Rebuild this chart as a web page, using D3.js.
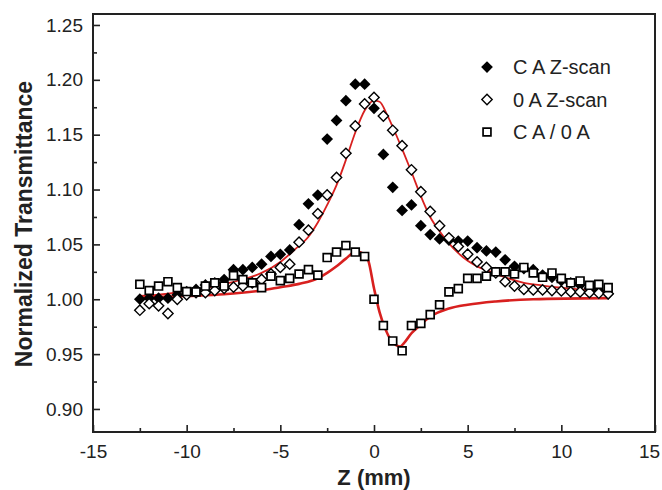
<!DOCTYPE html>
<html>
<head>
<meta charset="utf-8">
<script src="https://cdn.jsdelivr.net/npm/d3@7"></script>
<style>
  body { margin: 0; background: #fff; }
  svg { display: block; font-family: "Liberation Sans", Arial, sans-serif; }
</style>
</head>
<body>
<svg id="chart" width="662" height="490"></svg>
<script>
// ---- data ----
const zPos = [-12.5, -12, -11.5, -11, -10.5, -10, -9.5, -9, -8.5, -8, -7.5, -7, -6.5, -6, -5.5, -5,
  -4.5, -4, -3.5, -3, -2.5, -2, -1.5, -1, -0.5, 0, 0.5, 1, 1.5, 2, 2.5, 3, 3.5, 4, 4.5, 5,
  5.5, 6, 6.5, 7, 7.5, 8, 8.5, 9, 9.5, 10, 10.5, 11, 11.5, 12, 12.5];

const caScan = [1.000, 1.001, 1.001, 1.001, 1.004, 1.007, 1.009, 1.013, 1.015, 1.018, 1.027, 1.027, 1.029, 1.032, 1.039, 1.041,
  1.045, 1.068, 1.087, 1.095, 1.146, 1.163, 1.181, 1.196, 1.196, 1.174, 1.132, 1.102, 1.081, 1.086, 1.067, 1.059, 1.055, 1.054, 1.053, 1.053,
  1.047, 1.044, 1.043, 1.036, 1.030, 1.028, 1.027, 1.022, 1.020, 1.017, 1.015, 1.013, 1.010, 1.008, 1.005];

const oaScan = [0.990, 0.996, 0.994, 0.987, 1.000, 1.004, 1.006, 1.006, 1.008, 1.010, 1.011, 1.012, 1.015, 1.018, 1.023, 1.029,
  1.032, 1.052, 1.063, 1.078, 1.095, 1.111, 1.133, 1.158, 1.178, 1.184, 1.167, 1.154, 1.140, 1.118, 1.098, 1.080, 1.067, 1.056, 1.048, 1.041,
  1.034, 1.029, 1.024, 1.016, 1.012, 1.009, 1.0085, 1.0085, 1.008, 1.0076, 1.0067, 1.0067, 1.006, 1.0055, 1.005];

const ratio = [1.0136, 1.008, 1.012, 1.016, 1.0106, 1.007, 1.0067, 1.012, 1.015, 1.012, 1.0215, 1.018, 1.015, 1.0106, 1.021, 1.017,
  1.019, 1.023, 1.027, 1.022, 1.038, 1.043, 1.049, 1.043, 1.039, 1.000, 0.976, 0.962, 0.953, 0.976, 0.978, 0.986, 0.995, 1.0067, 1.0097, 1.019,
  1.019, 1.021, 1.025, 1.025, 1.023, 1.029, 1.024, 1.020, 1.024, 1.019, 1.015, 1.0167, 1.0127, 1.0136, 1.0106];

// red fit curves
const oaFitZ = [-12.5, -11, -10, -9, -8, -7, -6, -5, -4.25, -3.5, -3, -2.5, -2, -1.5, -1, -0.5, 0, 0.3, 0.7, 1, 1.5, 2, 2.5, 3,
  3.5, 4, 4.5, 5, 5.5, 6.25, 7, 8, 9, 10, 11, 12.5];
const oaFitT = [1.003, 1.005, 1.008, 1.010, 1.014, 1.018, 1.024, 1.034, 1.045, 1.057, 1.070, 1.086, 1.104, 1.127, 1.152, 1.172, 1.181, 1.180, 1.168, 1.157, 1.137, 1.116, 1.094, 1.075,
  1.062, 1.051, 1.042, 1.035, 1.030, 1.025, 1.020, 1.015, 1.0125, 1.0105, 1.009, 1.006];

const ratioFitZ = [-12.5, -10, -8, -6, -5, -4, -3, -2.5, -2, -1.5, -1, -0.8, -0.5, -0.3, 0, 0.3, 0.6, 0.9, 1.2, 1.4, 1.6, 2, 2.5, 3,
  4, 5, 6.5, 8.5, 12.5];
const ratioFitT = [1.0015, 1.003, 1.0045, 1.008, 1.011, 1.014, 1.019, 1.024, 1.030, 1.037, 1.043, 1.043, 1.040, 1.035, 1.010, 0.988, 0.973, 0.963, 0.958, 0.957, 0.960, 0.969, 0.977, 0.984,
  0.9915, 0.995, 0.998, 1.000, 1.001];

const xTicks = [-15, -10, -5, 0, 5, 10, 15];
const xMinor = [-12.5, -7.5, -2.5, 2.5, 7.5, 12.5];
const yTicks = [0.90, 0.95, 1.00, 1.05, 1.10, 1.15, 1.20, 1.25];
const yMinor = [0.925, 0.975, 1.025, 1.075, 1.125, 1.175, 1.225];
const legendLabels = ["C A Z-scan", "0 A Z-scan", "C A / 0 A"];

// ---- chart ----
const svg = d3.select("#chart");
const margin = { top: 14, right: 7, bottom: 58, left: 93 };
const width = 662, height = 490;
const ink = "#222";

const x = d3.scaleLinear().domain([-15, 15]).range([margin.left, width - margin.right]);
const y = d3.scaleLinear().domain([0.879, 1.26]).range([height - margin.bottom, margin.top]);

const plot = svg.append("g");

// red fits
const line = d3.line().x(d => x(d[0])).y(d => y(d[1])).curve(d3.curveMonotoneX);
plot.append("path")
  .attr("d", line(d3.zip(ratioFitZ, ratioFitT)))
  .attr("fill", "none").attr("stroke", "#d8201f").attr("stroke-width", 2.6);
plot.append("path")
  .attr("d", line(d3.zip(oaFitZ, oaFitT)))
  .attr("fill", "none").attr("stroke", "#d8201f").attr("stroke-width", 1.8);

const diamond = d3.symbol().type(d3.symbolDiamond2);
const square = d3.symbol().type(d3.symbolSquare).size(62);
const filledSize = 88, openSize = 68;

plot.append("g").selectAll("path")
  .data(d3.zip(zPos, caScan))
  .join("path")
  .attr("transform", d => `translate(${x(d[0])},${y(d[1])})`)
  .attr("d", diamond.size(filledSize)())
  .attr("fill", "#000");

plot.append("g").selectAll("path")
  .data(d3.zip(zPos, oaScan))
  .join("path")
  .attr("transform", d => `translate(${x(d[0])},${y(d[1])})`)
  .attr("d", diamond.size(openSize)())
  .attr("fill", "#fff").attr("stroke", "#000").attr("stroke-width", 1.4);

plot.append("g").selectAll("path")
  .data(d3.zip(zPos, ratio))
  .join("path")
  .attr("transform", d => `translate(${x(d[0])},${y(d[1])})`)
  .attr("d", square())
  .attr("fill", "#fff").attr("stroke", "#000").attr("stroke-width", 1.7);

// axes (ticks inward), plain hyphen for negatives
const hyphen = d => String(d).replace("\u2212", "-");
const xAxis = svg.append("g")
  .attr("transform", `translate(0,${height - margin.bottom})`)
  .call(d3.axisBottom(x).tickValues(xTicks).tickSize(-7).tickPadding(13).tickFormat(d => hyphen(d3.format("d")(d))));
const xAxisMinor = svg.append("g")
  .attr("transform", `translate(0,${height - margin.bottom})`)
  .call(d3.axisBottom(x).tickValues(xMinor).tickSize(-4).tickFormat(""));
const yAxis = svg.append("g")
  .attr("transform", `translate(${margin.left},0)`)
  .call(d3.axisLeft(y).tickValues(yTicks).tickSize(-7).tickPadding(10).tickFormat(d3.format(".2f")));
const yAxisMinor = svg.append("g")
  .attr("transform", `translate(${margin.left},0)`)
  .call(d3.axisLeft(y).tickValues(yMinor).tickSize(-4).tickFormat(""));

[xAxis, xAxisMinor, yAxis, yAxisMinor].forEach(g => {
  g.select(".domain").remove();
  g.selectAll("line").attr("stroke", ink).attr("stroke-width", 1.6);
  g.selectAll("text").attr("fill", ink).attr("font-size", 19).attr("font-family", "Liberation Sans, Arial, sans-serif");
});
// keep the last x label inside the picture
xAxis.selectAll(".tick").filter(d => d === 15).select("text").attr("dx", -6);

// frame
svg.append("rect")
  .attr("x", margin.left).attr("y", margin.top)
  .attr("width", width - margin.left - margin.right)
  .attr("height", height - margin.top - margin.bottom)
  .attr("fill", "none").attr("stroke", ink).attr("stroke-width", 2);

// axis titles
svg.append("text")
  .attr("x", x(0)).attr("y", 485)
  .attr("text-anchor", "middle")
  .attr("font-size", 22).attr("font-weight", "bold").attr("fill", ink)
  .text("Z (mm)");

svg.append("text")
  .attr("transform", `translate(32,${224}) rotate(-90)`)
  .attr("text-anchor", "middle")
  .attr("font-size", 23).attr("font-weight", "bold").attr("fill", ink)
  .text("Normalized Transmittance");

// legend
const legend = svg.append("g").attr("transform", "translate(487,67)");
const legendRows = legend.selectAll("g")
  .data(legendLabels)
  .join("g")
  .attr("transform", (d, i) => `translate(0,${i * 32.5})`);
legendRows.append("path")
  .attr("d", (d, i) => i === 2 ? square() : diamond.size(i === 0 ? filledSize : openSize)())
  .attr("fill", (d, i) => i === 0 ? "#000" : "#fff")
  .attr("stroke", (d, i) => i === 0 ? "none" : "#000")
  .attr("stroke-width", (d, i) => i === 2 ? 1.7 : 1.4);
legendRows.append("text")
  .attr("x", 26).attr("y", 7)
  .attr("font-size", 20).attr("fill", ink)
  .text(d => d);
</script>
</body>
</html>
